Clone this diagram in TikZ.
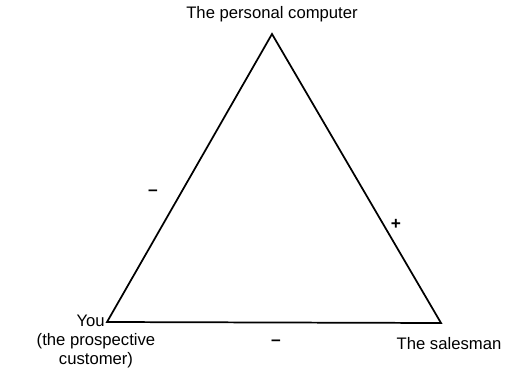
\documentclass[tikz,border=0pt]{standalone}
\usepackage{fontspec}
\setmainfont{Liberation Sans}
\usetikzlibrary{positioning}

\begin{document}
\begin{tikzpicture}[x=0.75pt,y=-0.75pt,
  lbl/.style={font=\fontsize{12.5}{14.5}\selectfont,inner sep=0pt},
  sign/.style={font=\fontsize{13}{15}\selectfont\bfseries,inner sep=0pt}]
\useasboundingbox (0,0) rectangle (514,382);
% corners of the triangle
\coordinate (pc) at (272,34);
\coordinate (you) at (107,322);
\coordinate (sales) at (441,323);
\draw[line width=1.3pt,line join=miter] (pc) -- (sales) -- (you) -- cycle;
% labels
\node[lbl] (pclbl) at (272,14) {The personal computer};
\node[lbl,anchor=east] (youlbl) at (105,321) {You};
\node[lbl,align=center] (custlbl) at (96,351) {(the prospective\\customer)};
\node[lbl] (saleslbl) at (449,344) {The salesman};
% signs
\node[sign] (mleft) at (153,193) {–};
\node[sign] (pright) at (396,224) {+};
\node[sign] (mbot) at (276,343) {–};
\end{tikzpicture}
\end{document}
